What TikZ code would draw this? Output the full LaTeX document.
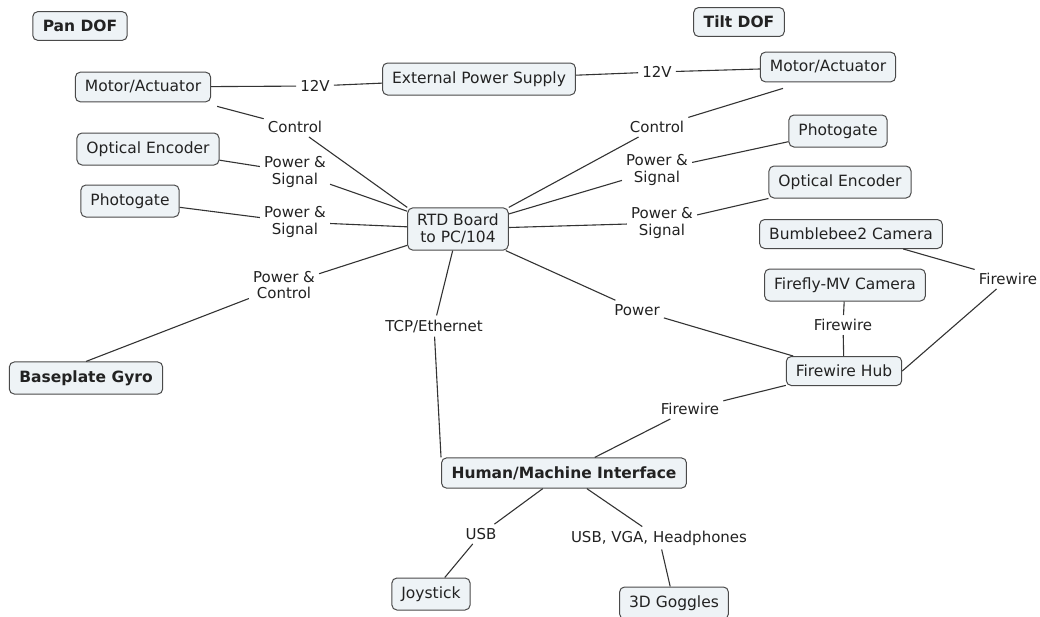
\documentclass[tikz,border=0pt]{standalone}
\usepackage{fontspec}
\setmainfont{DejaVu Sans}
\definecolor{boxfill}{HTML}{EEF3F6}
\definecolor{boxline}{HTML}{4A4A4A}
\definecolor{txt}{HTML}{222222}
\definecolor{edge}{HTML}{333333}
\tikzset{
  box/.style={draw=boxline, fill=boxfill, rounded corners=5pt, line width=1pt,
    inner xsep=9.5pt, inner ysep=8.5pt, text=txt, font=\fontsize{15.5}{17}\selectfont, align=center},
  boldbox/.style={box, inner xsep=10pt, font=\fontsize{15.5}{17}\selectfont\bfseries},
  lab/.style={text=txt, font=\fontsize{15}{16.5}\selectfont, align=center, inner sep=4pt},
  conn/.style={draw=edge, line width=1.1pt}
}
\begin{document}
\begin{tikzpicture}[x=1pt,y=-1pt]
\useasboundingbox (0,0) rectangle (1040,616);
% nodes
\node[boldbox] (pan) at (80,26) {Pan DOF};
\node[boldbox] (tilt) at (739,22) {Tilt DOF};
\node[box] (motl) at (143,87) {Motor/Actuator};
\node[box] (eps) at (479,79) {External Power Supply};
\node[box] (motr) at (828,67) {Motor/Actuator};
\node[box] (oencl) at (148,149) {Optical Encoder};
\node[box] (photl) at (130,201) {Photogate};
\node[box, inner ysep=6pt] (rtd) at (458,229) {RTD Board\\to PC/104};
\node[box] (photr) at (838,131) {Photogate};
\node[box] (oencr) at (840,182) {Optical Encoder};
\node[box] (bumble) at (851,234) {Bumblebee2 Camera};
\node[box] (firefly) at (845,285) {Firefly-MV Camera};
\node[box] (hub) at (844,371) {Firewire Hub};
\node[boldbox] (gyro) at (86,378) {Baseplate Gyro};
\node[boldbox] (hmi) at (564,473) {Human/Machine Interface};
\node[box] (joy) at (431,594) {Joystick};
\node[box] (gog) at (674,603) {3D Goggles};
% labels
\node[lab] (l12l) at (315,86) {12V};
\node[lab] (l12r) at (657,72) {12V};
\node[lab] (lcl) at (295,127) {Control};
\node[lab] (lcr) at (657,127) {Control};
\node[lab] (lpsl1) at (295,172) {Power \&\\Signal};
\node[lab] (lpsl2) at (295,222) {Power \&\\Signal};
\node[lab] (lpsr1) at (657,170) {Power \&\\Signal};
\node[lab] (lpsr2) at (662,223) {Power \&\\Signal};
\node[lab] (lpc) at (284,285) {Power \&\\Control};
\node[lab] (ltcp) at (434,326) {TCP/Ethernet};
\node[lab] (lpow) at (637,310) {Power};
\node[lab] (lfw1) at (843,325) {Firewire};
\node[lab] (lfw2) at (1008,279) {Firewire};
\node[lab] (lfw3) at (690,409) {Firewire};
\node[lab] (lusb) at (481,534) {USB};
\node[lab] (lusbv) at (659,538) {USB, VGA, Headphones};
% connectors
\draw[conn] (motl) -- (l12l) -- (eps);
\draw[conn] (eps) -- (l12r) -- (motr);
\path (motl.south east) ++(6,4) coordinate (c1);
\draw[conn] (c1) -- (lcl) -- (rtd.north west);
\path (motr.south) ++(-45,6) coordinate (c2);
\draw[conn] (c2) -- (lcr) -- (rtd.north east);
\draw[conn] (oencl) -- (lpsl1) -- (rtd);
\draw[conn] (photl) -- (lpsl2) -- (rtd);
\draw[conn] (photr) -- (lpsr1) -- (rtd);
\draw[conn] (oencr) -- (lpsr2) -- (rtd);
\draw[conn] (gyro.north) -- (lpc) -- (rtd);
\draw[conn] (rtd) -- (ltcp) -- (hmi.north west);
\draw[conn] (rtd) -- (lpow) -- (hub);
\draw[conn] (firefly) -- (lfw1) -- (hub);
\draw[conn] (bumble) -- (lfw2) -- (hub.east);
\draw[conn] (hub) -- (lfw3) -- (hmi);
\draw[conn] (hmi) -- (lusb) -- (joy);
\draw[conn] (hmi) -- (lusbv) -- (gog);
\end{tikzpicture}
\end{document}
